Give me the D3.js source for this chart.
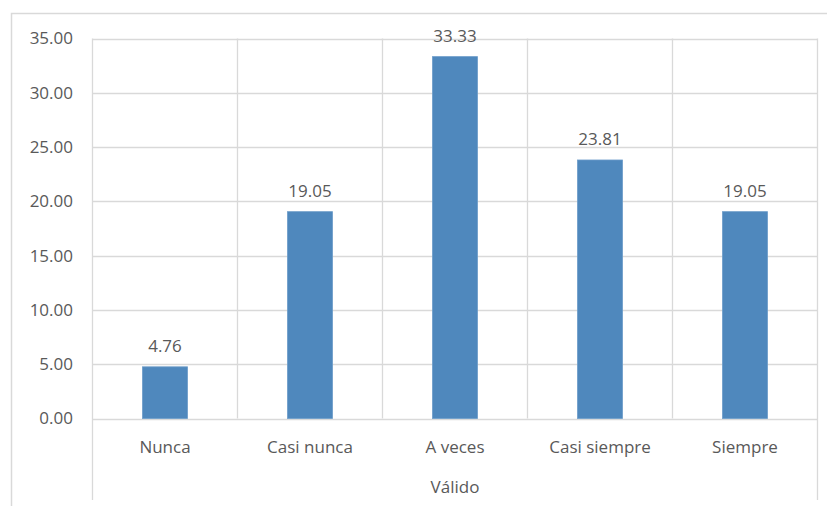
<!DOCTYPE html>
<html>
<head>
<meta charset="utf-8">
<script src="https://cdn.jsdelivr.net/npm/d3@7"></script>
<style>
  html, body { margin: 0; padding: 0; background: #fff; }
  svg { display: block; }
  text { font-family: "Open Sans", "Noto Sans", sans-serif; fill: #595959; }
</style>
</head>
<body>
<svg id="chart" width="827" height="506"></svg>
<script>
// Response distribution (%)
const categories = ["Nunca", "Casi nunca", "A veces", "Casi siempre", "Siempre"];
const values = [4.76, 19.05, 33.33, 23.81, 19.05];
const yTicks = [0, 5, 10, 15, 20, 25, 30, 35];
const groupLabel = "Válido";

const svg = d3.select("#chart");
const W = 827, H = 506;
const plot = { left: 92.5, right: 817.5, top: 38.5, bottom: 418.5 };
const grid = "#d9d9d9";

// outer chart frame
svg.append("path")
  .attr("d", `M11.5,${H + 2} V13.5 H${W + 2}`)
  .attr("fill", "none").attr("stroke", grid).attr("stroke-width", 1.5);

const x = d3.scaleBand().domain(categories).range([plot.left, plot.right]).paddingInner(0).paddingOuter(0);
const y = d3.scaleLinear().domain([0, 35]).range([plot.bottom, plot.top]);

// horizontal gridlines
svg.append("g").selectAll("line").data(yTicks).join("line")
  .attr("x1", plot.left).attr("x2", plot.right)
  .attr("y1", d => Math.round(y(d)) + 0.5).attr("y2", d => Math.round(y(d)) + 0.5)
  .attr("stroke", grid).attr("stroke-width", 1.3);

// vertical category dividers
const edges = categories.map(c => x(c)).concat([plot.right]);
svg.append("g").selectAll("line").data(edges).join("line")
  .attr("x1", d => d).attr("x2", d => d)
  .attr("y1", plot.top)
  .attr("y2", (d, i) => (i === 0 || i === edges.length - 1) ? 500 : plot.bottom)
  .attr("stroke", grid).attr("stroke-width", 1.3);

// y-axis tick labels
const yAxis = d3.axisLeft(y).tickValues(yTicks).tickFormat(d3.format(".2f")).tickSize(0).tickPadding(0);
const gy = svg.append("g").attr("transform", "translate(73,0)").call(yAxis);
gy.select(".domain").remove();
gy.selectAll("text").attr("font-size", 17).attr("fill", "#595959")
  .style("font-family", '"Open Sans", sans-serif');

// bars
const barW = 45;
svg.append("g").selectAll("rect").data(values).join("rect")
  .attr("x", (d, i) => x(categories[i]) + x.bandwidth() / 2 - barW / 2)
  .attr("width", barW)
  .attr("y", d => y(d))
  .attr("height", d => y(0) - y(d))
  .attr("fill", "#4f88bd")
  .attr("stroke", "#6c9cc9").attr("stroke-width", 0.8);

// value labels
svg.append("g").selectAll("text").data(values).join("text")
  .attr("x", (d, i) => x(categories[i]) + x.bandwidth() / 2)
  .attr("y", d => y(d) - 15)
  .attr("text-anchor", "middle")
  .attr("font-size", 17)
  .text(d => d.toFixed(2));

// category labels
const xAxis = d3.axisBottom(x).tickSize(0).tickPadding(0);
const gx = svg.append("g").attr("transform", `translate(0,${plot.bottom})`).call(xAxis);
gx.select(".domain").remove();
gx.selectAll("text").attr("font-size", 17).attr("fill", "#595959")
  .attr("dy", 0).attr("y", 34)
  .style("font-family", '"Open Sans", sans-serif');

// group label
svg.append("text")
  .attr("x", (plot.left + plot.right) / 2)
  .attr("y", 493)
  .attr("text-anchor", "middle")
  .attr("font-size", 17)
  .text(groupLabel);
</script>
</body>
</html>
